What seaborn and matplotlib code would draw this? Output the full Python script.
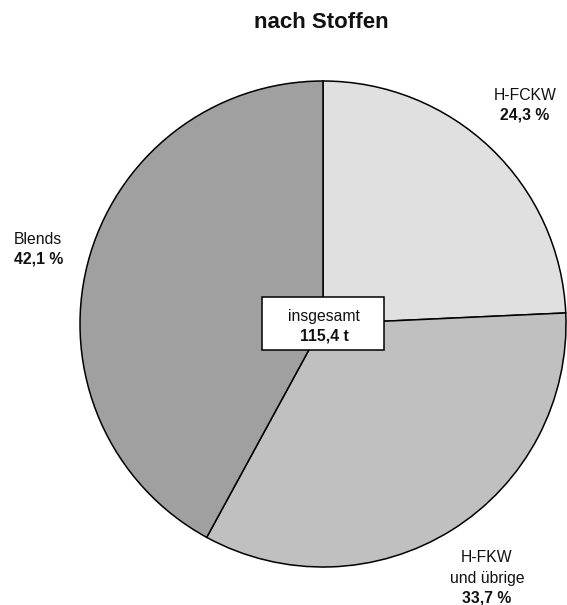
import matplotlib
matplotlib.use("Agg")
import matplotlib.pyplot as plt
import seaborn as sns
from matplotlib.patches import Rectangle

categories = ["H-FCKW", "H-FKW\nund übrige", "Blends"]
shares = [24.3, 33.7, 42.1]
share_labels = ["24,3 %", "33,7 %", "42,1 %"]
colors = ["#e0e0e0", "#c0c0c0", "#a0a0a0"]
title = "nach Stoffen"
total_label = "insgesamt"
total_value = "115,4 t"

sns.set_theme(style="white")
plt.rcParams['font.family'] = ['Liberation Sans', 'DejaVu Sans']

W, H = 567, 605
fig = plt.figure(figsize=(W / 100, H / 100), dpi=100)
ax = fig.add_axes([0, 0, 1, 1])
ax.set_xlim(0, W)
ax.set_ylim(0, H)
ax.set_aspect('equal')
ax.axis('off')

cx, cy, r = 323, H - 324, 243
ax.pie(shares, colors=colors, startangle=90, counterclock=False,
       center=(cx, cy), radius=r,
       wedgeprops=dict(edgecolor='black', linewidth=1.1))
ax.set_xlim(0, W)
ax.set_ylim(0, H)
ax.axis('off')

fs = 11.3
ax.text(321, H - 22, title, ha='center', va='center', fontsize=16, fontweight='bold', color='#111111')

# H-FCKW
ax.text(525, H - 96, categories[0], ha='center', va='center', fontsize=fs, color='#111111')
ax.text(525, H - 115, share_labels[0], ha='center', va='center', fontsize=fs, fontweight='bold', color='#111111')
# H-FKW und übrige
lines = categories[1].split("\n")
ax.text(487, H - 558, lines[0], ha='center', va='center', fontsize=fs, color='#111111')
ax.text(487, H - 578, lines[1], ha='center', va='center', fontsize=fs, color='#111111')
ax.text(487, H - 598, share_labels[1], ha='center', va='center', fontsize=fs, fontweight='bold', color='#111111')
# Blends
ax.text(14, H - 240, categories[2], ha='left', va='center', fontsize=fs, color='#111111')
ax.text(14, H - 259, share_labels[2], ha='left', va='center', fontsize=fs, fontweight='bold', color='#111111')

# total box
ax.add_patch(Rectangle((262, H - 350), 122, 53, facecolor='white', edgecolor='black', linewidth=1.1, zorder=5))
ax.text(324, H - 317, total_label, ha='center', va='center', fontsize=fs, color='#111111', zorder=6)
ax.text(324, H - 336, total_value, ha='center', va='center', fontsize=fs, fontweight='bold', color='#111111', zorder=6)

fig.savefig("out.png", dpi=100, facecolor='white')
